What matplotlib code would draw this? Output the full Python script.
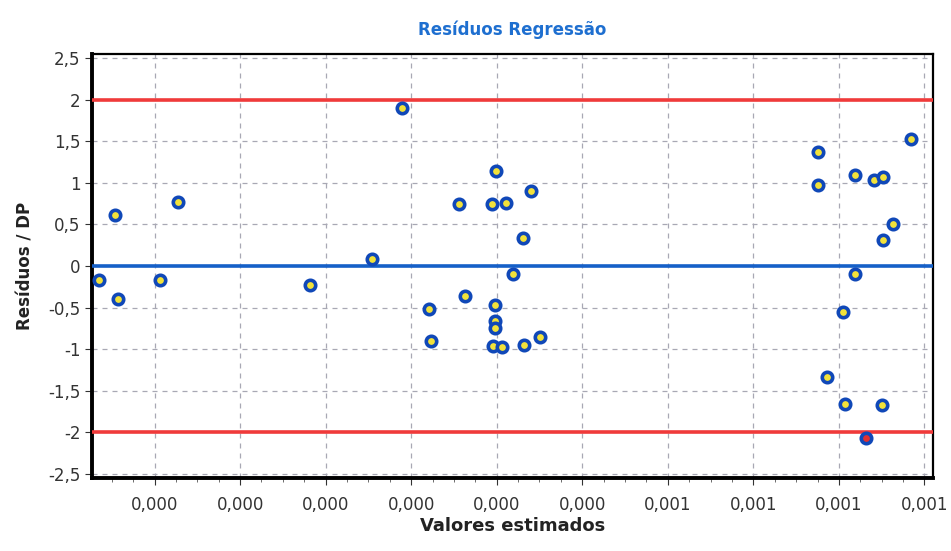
import matplotlib.pyplot as plt
import numpy as np

# valores estimados (x) e resíduos padronizados (y)
valores_estimados = [
    -1.144e-4, -0.962e-4, -0.927e-4, -0.441e-4, -0.223e-4, 1.316e-4, 2.037e-4,
    2.387e-4, 3.055e-4, 3.496e-4, 3.906e-4, 3.440e-4, 3.607e-4, 3.810e-4,
    3.690e-4, 3.132e-4, 2.706e-4, 3.483e-4, 3.478e-4, 3.481e-4, 2.734e-4,
    4.004e-4, 3.462e-4, 3.558e-4, 3.819e-4, 8.337e-4, 7.256e-4, 7.690e-4,
    7.915e-4, 8.018e-4, 7.259e-4, 8.127e-4, 8.014e-4, 7.692e-4, 7.542e-4,
    7.362e-4, 7.573e-4, 8.006e-4, 7.818e-4,
]
residuos_dp = [
    -0.17, 0.61, -0.40, -0.17, 0.77, -0.23, 0.08,
    1.90, 0.74, 1.14, 0.90, 0.74, 0.76, 0.34,
    -0.10, -0.36, -0.52, -0.47, -0.66, -0.75, -0.90,
    -0.85, -0.96, -0.97, -0.95, 1.53, 1.37, 1.09,
    1.04, 1.07, 0.97, 0.51, 0.31, -0.10, -0.55,
    -1.33, -1.66, -1.67, -2.07,
]

limites = [2, -2]
linha_zero = 0

x_ticks = [-0.5e-4, 0.5e-4, 1.5e-4, 2.5e-4, 3.5e-4, 4.5e-4, 5.5e-4, 6.5e-4, 7.5e-4, 8.5e-4]
x_tick_labels = ['0,000'] * 6 + ['0,001'] * 4
y_ticks = [2.5, 2, 1.5, 1, 0.5, 0, -0.5, -1, -1.5, -2, -2.5]
y_tick_labels = ['2,5', '2', '1,5', '1', '0,5', '0', '-0,5', '-1', '-1,5', '-2', '-2,5']

x = np.array(valores_estimados)
y = np.array(residuos_dp)
fora = np.abs(y) > 2

fig = plt.figure(figsize=(9.51, 5.51), dpi=100)
ax = fig.add_axes([0.097, 0.1325, 0.884, 0.7695])

for lim in limites:
    ax.axhline(lim, color='#f03a3a', lw=2.6, zorder=3)
ax.axhline(linha_zero, color='#1560c8', lw=2.6, zorder=3)

ax.plot(x[~fora], y[~fora], 'o', ms=7.5, mfc='#f2e23a', mec='#1048b8', mew=2.6, zorder=4)
ax.plot(x[fora], y[fora], 'o', ms=7.5, mfc='#e03030', mec='#1048b8', mew=2.6, zorder=4)

ax.set_xlim(-1.228e-4, 8.599e-4)
ax.set_ylim(-2.55, 2.55)
ax.set_xticks(x_ticks)
ax.set_xticklabels(x_tick_labels)
ax.set_yticks(y_ticks)
ax.set_yticklabels(y_tick_labels)
ax.set_xticks(np.arange(-1.0e-4, 8.6e-4, 0.25e-4), minor=True)

ax.grid(True, which='major', ls=(0, (4, 4)), color='#a8a8b4', lw=0.9)
ax.tick_params(axis='both', which='major', labelsize=12, colors='#333333', length=5, direction='out')
ax.tick_params(axis='x', which='minor', length=3, color='#555555')
ax.tick_params(axis='x', which='major', pad=8)

for side in ['left', 'bottom']:
    ax.spines[side].set_linewidth(2.8)
for side in ['top', 'right']:
    ax.spines[side].set_linewidth(1.6)

ax.set_title('Resíduos Regressão', color='#1e6fd0', fontsize=12, fontweight='bold', pad=14)
ax.set_xlabel('Valores estimados', fontsize=13, fontweight='bold', color='#222222', labelpad=2)
ax.set_ylabel('Resíduos / DP', fontsize=12, fontweight='bold', color='#222222', labelpad=10)

fig.savefig('out.png', dpi=100, facecolor='white')
